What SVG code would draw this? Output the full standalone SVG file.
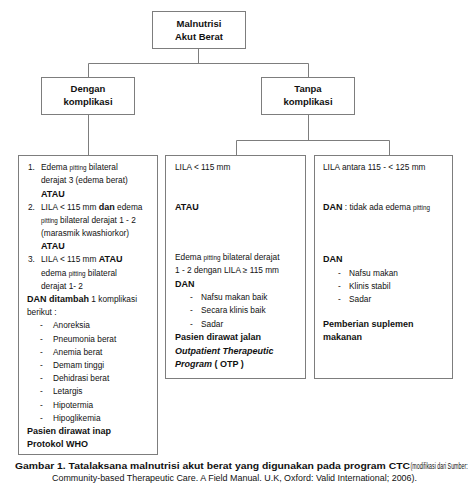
<svg xmlns="http://www.w3.org/2000/svg" width="474" height="489" viewBox="0 0 474 489">
<style>
text{font-family:"Liberation Sans",Arial,sans-serif;fill:#111;}
.box{fill:#fff;stroke:#7d7d7d;stroke-width:1;}
.conn line{stroke:#7d7d7d;stroke-width:1;}
.t{font-size:9.5px;font-weight:bold;text-anchor:middle;}
.r{font-size:8.3px;}
.b{font-size:9px;font-weight:bold;}
.p{font-size:6.3px;}
.bi{font-style:italic;}
.cap{font-size:8.3px;}
</style>
<rect width="474" height="489" fill="#fff"/>
<g id="connectors" class="conn">
<line x1="198.5" y1="48" x2="198.5" y2="63.5"/>
<line x1="88.5" y1="63.5" x2="308.5" y2="63.5"/>
<line x1="88.5" y1="63.5" x2="88.5" y2="77"/>
<line x1="308.5" y1="63.5" x2="308.5" y2="77"/>
<line x1="88.5" y1="114" x2="88.5" y2="155"/>
<line x1="308.5" y1="114" x2="308.5" y2="140.5"/>
<line x1="236.5" y1="140.5" x2="389.5" y2="140.5"/>
<line x1="236.5" y1="140.5" x2="236.5" y2="155"/>
<line x1="389.5" y1="140.5" x2="389.5" y2="155"/>
</g>
<g id="malnutrisi">
<rect class="box" x="152.5" y="11.5" width="93" height="37"/>
<text class="t" x="199" y="26.5">Malnutrisi</text>
<text class="t" x="199" y="39.5">Akut Berat</text>
</g>
<g id="dengan">
<rect class="box" x="41.5" y="77.5" width="93" height="37"/>
<text class="t" x="88" y="91.5">Dengan</text>
<text class="t" x="88" y="105">komplikasi</text>
</g>
<g id="tanpa">
<rect class="box" x="261.5" y="77.5" width="93" height="37"/>
<text class="t" x="308" y="91.5">Tanpa</text>
<text class="t" x="308" y="105">komplikasi</text>
</g>
<g id="left-box">
<rect class="box" x="18.5" y="155.5" width="139" height="299"/>
<text class="r" x="28" y="170">1.</text>
<text class="r" x="41" y="170">Edema <tspan class="p">pitting</tspan> bilateral</text>
<text class="r" x="41" y="183">derajat 3 (edema berat)</text>
<text class="b" x="41" y="196.5">ATAU</text>
<text class="r" x="28" y="209.5">2.</text>
<text class="r" x="41" y="209.5">LILA &lt; 115 mm <tspan class="b">dan</tspan> edema</text>
<text class="r" x="41" y="222.5"><tspan class="p">pitting</tspan> bilateral derajat 1 - 2</text>
<text class="r" x="41" y="236">(marasmik kwashiorkor)</text>
<text class="b" x="41" y="249">ATAU</text>
<text class="r" x="28" y="262">3.</text>
<text class="r" x="41" y="262">LILA &lt; 115 mm <tspan class="b">ATAU</tspan></text>
<text class="r" x="41" y="275.5">edema <tspan class="p">pitting</tspan> bilateral</text>
<text class="r" x="41" y="288.5">derajat 1- 2</text>
<text class="r" x="27" y="302"><tspan class="b">DAN  ditambah</tspan> 1 komplikasi</text>
<text class="r" x="27" y="315">berikut  :</text>
<text class="r" x="40" y="328">-</text><text class="r" x="53" y="328">Anoreksia</text>
<text class="r" x="40" y="341.5">-</text><text class="r" x="53" y="341.5">Pneumonia berat</text>
<text class="r" x="40" y="354.5">-</text><text class="r" x="53" y="354.5">Anemia berat</text>
<text class="r" x="40" y="368">-</text><text class="r" x="53" y="368">Demam tinggi</text>
<text class="r" x="40" y="381">-</text><text class="r" x="53" y="381">Dehidrasi berat</text>
<text class="r" x="40" y="394">-</text><text class="r" x="53" y="394">Letargis</text>
<text class="r" x="40" y="407.5">-</text><text class="r" x="53" y="407.5">Hipotermia</text>
<text class="r" x="40" y="420.5">-</text><text class="r" x="53" y="420.5">Hipoglikemia</text>
<text class="b" x="27" y="434">Pasien dirawat inap</text>
<text class="b" x="27" y="447">Protokol WHO</text>
</g>
<g id="middle-box">
<rect class="box" x="165.5" y="155.5" width="140" height="223"/>
<text class="r" x="175" y="170">LILA &lt; 115 mm</text>
<text class="b" x="175" y="210">ATAU</text>
<text class="r" x="175" y="260">Edema <tspan class="p">pitting</tspan> bilateral derajat</text>
<text class="r" x="175" y="273">1 - 2 dengan LILA ≥ 115 mm</text>
<text class="b" x="175" y="286.5">DAN</text>
<text class="r" x="190" y="300">-</text><text class="r" x="201" y="300">Nafsu makan baik</text>
<text class="r" x="190" y="313">-</text><text class="r" x="201" y="313">Secara klinis baik</text>
<text class="r" x="190" y="326.5">-</text><text class="r" x="201" y="326.5">Sadar</text>
<text class="b" x="175" y="340">Pasien dirawat jalan</text>
<text class="b bi" x="175" y="353.5">Outpatient Therapeutic</text>
<text class="b" x="175" y="367"><tspan class="bi">Program</tspan>  ( OTP )</text>
</g>
<g id="right-box">
<rect class="box" x="314.5" y="155.5" width="138" height="223"/>
<text class="r" x="323" y="170">LILA antara 115 - &lt; 125 mm</text>
<text class="r" x="323" y="210"><tspan class="b">DAN</tspan>  : tidak ada edema <tspan class="p">pitting</tspan></text>
<text class="b" x="323" y="262">DAN</text>
<text class="r" x="338" y="275.5">-</text><text class="r" x="349" y="275.5">Nafsu makan</text>
<text class="r" x="338" y="288.5">-</text><text class="r" x="349" y="288.5">Klinis stabil</text>
<text class="r" x="338" y="302">-</text><text class="r" x="349" y="302">Sadar</text>
<text class="b" x="323" y="327">Pemberian suplemen</text>
<text class="b" x="323" y="340">makanan</text>
</g>
<g id="caption">
<text class="b" x="15" y="469" textLength="395" lengthAdjust="spacingAndGlyphs">Gambar 1. Tatalaksana malnutrisi akut berat yang digunakan pada program CTC</text>
<text class="cap" transform="translate(410.5,469) scale(0.64,1)">(modifikasi dari Sumber:</text>
<text class="cap" x="52" y="481" textLength="365" lengthAdjust="spacingAndGlyphs">Community-based Therapeutic Care. A Field Manual. U.K, Oxford: Valid International; 2006).</text>
</g>
</svg>
